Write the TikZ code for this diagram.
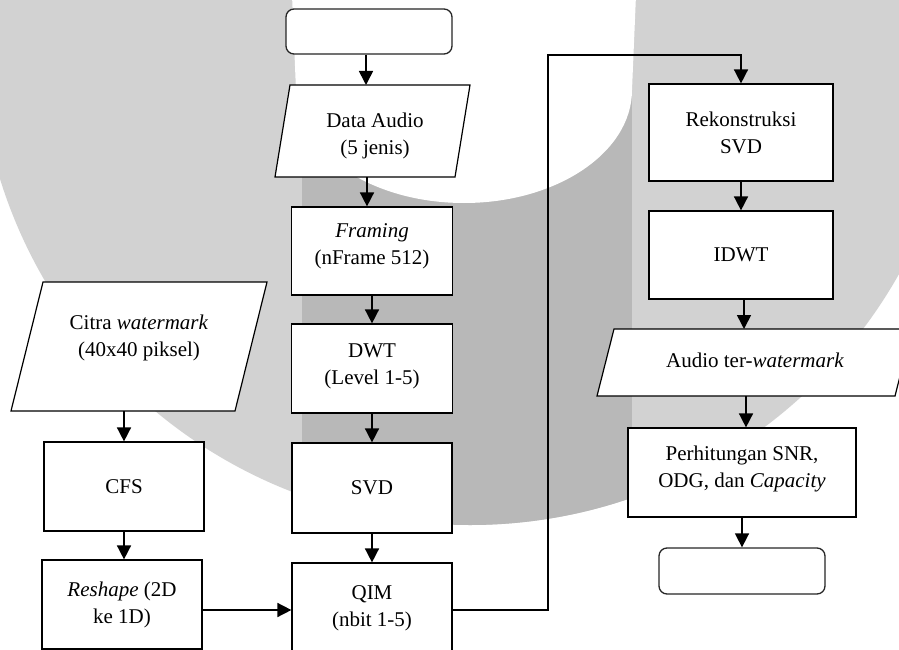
\documentclass[tikz,border=0pt]{standalone}
\usepackage{fontspec}
\setmainfont{Liberation Serif}
\usetikzlibrary{arrows.meta,calc}
\definecolor{bglight}{RGB}{210,210,210}
\definecolor{bgdark}{RGB}{184,184,184}
\newcommand\myfs{\fontsize{21}{27}\selectfont}
\begin{document}
\begin{tikzpicture}[x=1pt,y=-1pt,
  box/.style={draw=black, fill=white, line width=1.2pt, inner sep=0pt, align=center, font=\myfs},
  term/.style={draw=black!85, fill=white, line width=1.3pt, rounded corners=8pt, inner sep=0pt},
  para/.style={draw=black, fill=white, line width=1.2pt},
  frame/.style={inner sep=0pt, outer sep=0pt},
  txt/.style={inner sep=0pt, align=center, font=\myfs},
  arr/.style={line width=1.6pt, -{Triangle[length=14pt,width=14pt]}}]
\useasboundingbox (0,0) rectangle (899,650);
\clip (0,0) rectangle (899,650);
% background watermark
\fill[bglight] (470,33) circle (492pt);
\begin{scope}
  \clip (470,33) circle (492pt);
  \fill[bgdark] (302,-5) rectangle (632,660);
\end{scope}
\fill[white] (292,-5) -- (296,90) arc[start angle=180,end angle=360,x radius=168pt,y radius=113pt] -- (636,-5) -- cycle;

% middle column
\node[term, minimum width=166pt, minimum height=45pt] (start) at (369,31.5) {};
\path[para] (275,177) -- (455,177) -- (470,85) -- (290,85) -- cycle;
\node[frame, minimum width=150pt, minimum height=92pt] (da) at (372.5,131) {};
\node[txt] (daT) at (375,136) {Data Audio\\(5 jenis)};
\node[box, minimum width=161pt, minimum height=88pt] (fr) at (372,251) {};
\node[txt] (frT) at (372,246) {\textit{Framing}\\(nFrame 512)};
\node[box, minimum width=161pt, minimum height=89pt] (dwt) at (372,368.5) {};
\node[txt] (dwtT) at (372,366) {DWT\\(Level 1-5)};
\node[box, minimum width=160pt, minimum height=90pt] (svd) at (372,488) {SVD};
\node[box, minimum width=160pt, minimum height=90pt] (qim) at (372,608) {QIM\\(nbit 1-5)};

% left column
\path[para] (11,411) -- (235,411) -- (267,282) -- (43,282) -- cycle;
\node[frame, minimum width=190pt, minimum height=129pt] (citra) at (139,346.5) {};
\node[txt] (citraT) at (139,338) {Citra \textit{watermark}\\(40x40 piksel)};
\node[box, minimum width=160pt, minimum height=89pt] (cfs) at (124,486.5) {CFS};
\node[box, minimum width=160pt, minimum height=89pt] (resh) at (122,604.5) {\textit{Reshape} (2D\\ke 1D)};

% right column
\node[box, minimum width=184pt, minimum height=97pt] (rek) at (741,132.5) {Rekonstruksi\\SVD};
\node[box, minimum width=184pt, minimum height=88pt] (idwt) at (741,255) {IDWT};
\path[para] (597,396) -- (895,396) -- (912,329) -- (614,329) -- cycle;
\node[frame, minimum width=260pt, minimum height=67pt] (au) at (746,362.5) {};
\node[txt] (auT) at (755,360) {Audio ter-\textit{watermark}};
\node[box, minimum width=228pt, minimum height=89pt] (perh) at (742,472.5) {};
\node[txt] (perhT) at (742,469) {Perhitungan SNR,\\ODG, dan \textit{Capacity}};
\node[term, minimum width=166pt, minimum height=46pt] (end) at (742,571) {};

% connectors
\draw[arr] ([xshift=-3pt]start.south) -- ([xshift=-3pt]start.south |- da.north);
\draw[arr] ([xshift=-5.5pt]da.south) -- ([xshift=-5.5pt]da.south |- fr.north);
\draw[arr] (fr.south) -- (dwt.north);
\draw[arr] (dwt.south) -- (dwt.south |- svd.north);
\draw[arr] (svd.south) -- (qim.north);
\draw[arr] (cfs.north |- citra.south) -- (cfs.north);
\draw[arr] (cfs.south) -- (cfs.south |- resh.north);
\draw[arr] ([yshift=-5.5pt]resh.east) -- ([yshift=-5.5pt]resh.east -| qim.west);
\coordinate (up) at (548,55);
\draw[arr] ([yshift=-2pt]qim.east) -- ([yshift=-2pt]qim.east -| up) -- (up) -- (up -| rek.north) -- (rek.north);
\draw[arr] (rek.south) -- (idwt.north);
\draw[arr] ([xshift=3pt]idwt.south) -- ([xshift=3pt]idwt.south |- au.north);
\draw[arr] (au.south) -- (au.south |- perh.north);
\draw[arr] (perh.south) -- (end.north);
\end{tikzpicture}
\end{document}
